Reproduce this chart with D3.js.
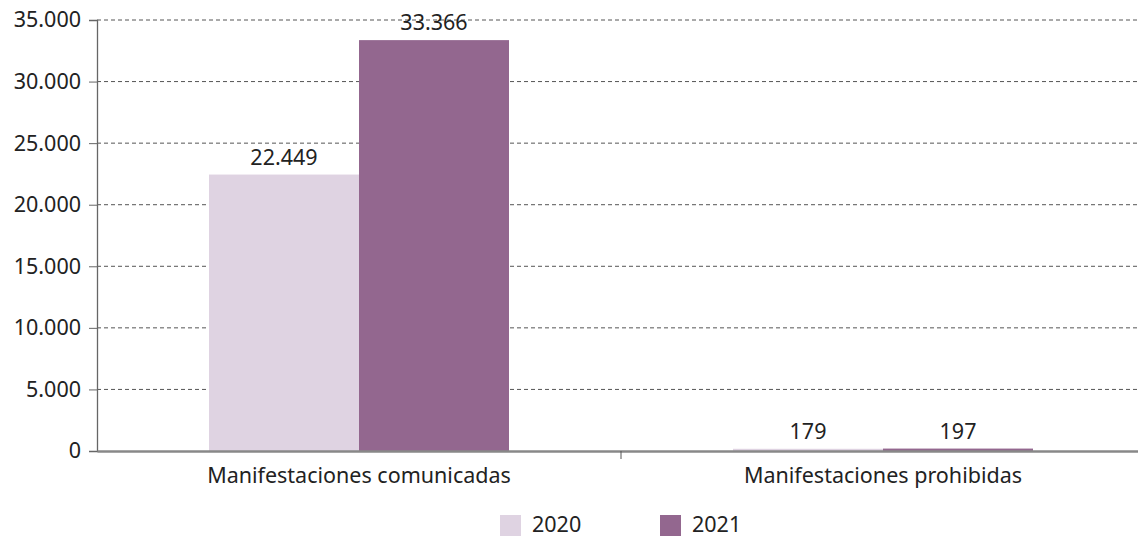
<!DOCTYPE html>
<html><head><meta charset="utf-8">
<script src="https://cdn.jsdelivr.net/npm/d3@7"></script>
<style>body{margin:0;background:#fff}svg{display:block}text{font-family:"Noto Sans",sans-serif;fill:#222}</style>
</head><body><svg id="c" width="1138" height="537"></svg>
<script>
const categories = ["Manifestaciones comunicadas", "Manifestaciones prohibidas"];
const seriesNames = ["2020", "2021"];
const values2020 = [22449, 179];
const values2021 = [33366, 197];
const yTicks = [0, 5000, 10000, 15000, 20000, 25000, 30000, 35000];
const colors = ["#dfd3e2", "#93678f"];

(function () {
const svg = d3.select("#c");
const mL = 97, mR = 1145, mT = 20, mB = 451;
const FS = 21.5;
const fmt = v => d3.format(",")(v).replace(/,/g, ".");
const y = d3.scaleLinear().domain([0, 35000]).range([mB, mT]);
const x0 = d3.scaleBand().domain(categories).range([mL, mR]);
const x1 = d3.scaleBand().domain(seriesNames).range([112, 412]);
const series = [values2020, values2021];

svg.append("g").selectAll("line").data(yTicks.filter(d => d > 0)).join("line")
  .attr("x1", mL).attr("x2", 1138).attr("y1", d => y(d)).attr("y2", d => y(d))
  .attr("stroke", "#555").attr("stroke-width", 1).attr("stroke-dasharray", "4,3");

categories.forEach((c, i) => {
  seriesNames.forEach((s, j) => {
    const v = series[j][i];
    svg.append("rect").attr("x", x0(c) + x1(s)).attr("width", x1.bandwidth())
      .attr("y", y(v)).attr("height", mB - y(v)).attr("fill", colors[j]);
    svg.append("text").attr("x", x0(c) + x1(s) + x1.bandwidth() / 2).attr("y", y(v) - 10)
      .attr("text-anchor", "middle").attr("font-size", FS).text(fmt(v));
  });
});

const ya = d3.axisLeft(y).tickValues(yTicks).tickFormat(fmt).tickSize(8).tickPadding(8);
const gy = svg.append("g").attr("transform", `translate(${mL},0)`).call(ya);
gy.select(".domain").attr("stroke", "#666").attr("stroke-width", 1.3);
gy.selectAll(".tick line").attr("stroke", "#666");
gy.selectAll("text").attr("font-size", FS).attr("fill", "#222").attr("font-family", "Noto Sans");

const xa = d3.axisBottom(x0).tickSize(0).tickPadding(17);
const gx = svg.append("g").attr("transform", `translate(0,${mB})`).call(xa);
gx.select(".domain").attr("stroke", "#888").attr("stroke-width", 2.5);
gx.selectAll("text").attr("font-size", FS).attr("fill", "#222").attr("font-family", "Noto Sans");
gx.append("line").attr("x1", x0(categories[1])).attr("x2", x0(categories[1])).attr("y1", 0).attr("y2", 8).attr("stroke", "#555");

const lg = svg.append("g");
seriesNames.forEach((s, j) => {
  const lx = 500 + j * 160;
  lg.append("rect").attr("x", lx).attr("y", 515).attr("width", 21).attr("height", 21).attr("fill", colors[j]);
  lg.append("text").attr("x", lx + 32).attr("y", 532).attr("font-size", FS).text(s);
});
})();
</script></body></html>
